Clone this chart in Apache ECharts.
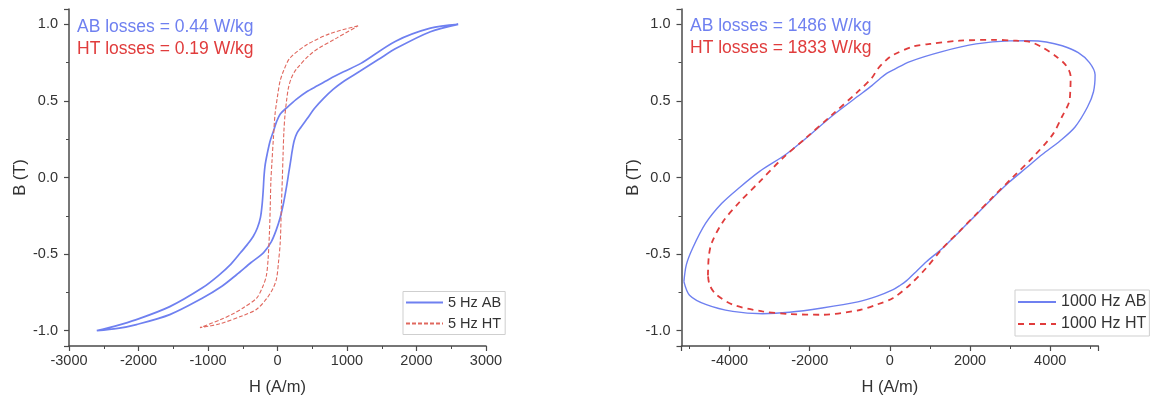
<!DOCTYPE html>
<html><head><meta charset="utf-8">
<script src="https://cdn.jsdelivr.net/npm/echarts@6/dist/echarts.min.js"></script>
<style>html,body{margin:0;padding:0;background:#fff}#c{width:1153px;height:400px}</style>
</head><body><div id="c"></div>
<script>
// ---- Data: [H (A/m), B (T)] ----
// 5 Hz, as-built (AB): descending branch then ascending branch
const ab5Desc = [[2600,1.0],[2200,0.975],[1700,0.89],[1200,0.745],[950,0.69],[755,0.645],[580,0.6],[420,0.56],[270,0.51],[132,0.455],[40,0.415],[-12,0.366],[-60,0.3],[-108,0.235],[-150,0.15],[-180,0.075],[-195,0.0],[-205,-0.08],[-220,-0.17],[-245,-0.26],[-290,-0.33],[-350,-0.385],[-430,-0.435],[-530,-0.49],[-670,-0.565],[-850,-0.64],[-1080,-0.72],[-1550,-0.843],[-2030,-0.928],[-2350,-0.972],[-2600,-1.0]];
const ab5Asc = [[-2600,-1.0],[-2300,-0.985],[-2030,-0.96],[-1550,-0.895],[-1090,-0.79],[-800,-0.71],[-590,-0.635],[-380,-0.555],[-200,-0.49],[-90,-0.42],[-20,-0.345],[40,-0.26],[90,-0.16],[130,-0.06],[165,0.04],[190,0.11],[210,0.17],[240,0.24],[280,0.29],[340,0.33],[420,0.38],[540,0.455],[660,0.515],[800,0.575],[950,0.627],[1190,0.695],[1450,0.77],[1715,0.845],[2200,0.952],[2600,1.0]];
// 5 Hz, heat treated (HT)
const ht5Desc = [[1160,0.99],[760,0.94],[420,0.866],[180,0.78],[90,0.7],[36,0.627],[0,0.53],[-36,0.41],[-60,0.25],[-80,0.1],[-95,-0.02],[-105,-0.2],[-115,-0.35],[-135,-0.53],[-160,-0.64],[-210,-0.71],[-300,-0.787],[-490,-0.85],[-640,-0.89],[-830,-0.93],[-1115,-0.98]];
const ht5Asc = [[-1115,-0.98],[-830,-0.955],[-490,-0.9],[-300,-0.86],[-155,-0.79],[-60,-0.72],[-12,-0.656],[15,-0.55],[40,-0.42],[55,-0.2],[70,0.0],[80,0.15],[92,0.3],[108,0.41],[130,0.5],[155,0.58],[200,0.65],[276,0.71],[515,0.82],[850,0.91],[1160,0.99]];
// 1000 Hz, AB: upper half (left→right) then lower half (right→left)
const ab1000Upper = [[-5140,-0.68],[-5080,-0.57],[-4920,-0.46],[-4600,-0.3],[-4200,-0.17],[-3750,-0.065],[-3250,0.04],[-2600,0.15],[-2100,0.255],[-1450,0.4],[-800,0.53],[-450,0.6],[-250,0.645],[-80,0.68],[100,0.705],[500,0.757],[1300,0.822],[2150,0.872],[2980,0.892],[3500,0.893],[3900,0.885],[4300,0.86],[4700,0.815],[4980,0.75],[5120,0.67]];
const ab1000Lower = [[5120,0.67],[5080,0.56],[4930,0.46],[4620,0.33],[4250,0.24],[3800,0.15],[3390,0.06],[2980,-0.03],[2560,-0.135],[2150,-0.243],[1740,-0.352],[1320,-0.46],[910,-0.55],[660,-0.613],[410,-0.675],[250,-0.705],[80,-0.732],[-330,-0.776],[-800,-0.812],[-1690,-0.852],[-2510,-0.88],[-3180,-0.889],[-3920,-0.874],[-4580,-0.83],[-5000,-0.768],[-5140,-0.68]];
// 1000 Hz, HT
const ht1000Upper = [[-4540,-0.64],[-4520,-0.52],[-4450,-0.43],[-4170,-0.29],[-3750,-0.16],[-3260,-0.03],[-2680,0.125],[-2100,0.257],[-1440,0.41],[-780,0.565],[-450,0.65],[-300,0.71],[-100,0.765],[80,0.8],[580,0.855],[1000,0.872],[1740,0.893],[2560,0.899],[3150,0.893],[3500,0.885],[3800,0.85],[4150,0.79],[4400,0.73],[4510,0.66]];
const ht1000Lower = [[4510,0.66],[4500,0.56],[4470,0.49],[4300,0.4],[4060,0.28],[3560,0.13],[3060,0.0],[2560,-0.13],[2150,-0.24],[1740,-0.35],[1320,-0.46],[910,-0.59],[500,-0.7],[80,-0.787],[-330,-0.83],[-750,-0.865],[-1690,-0.896],[-2510,-0.891],[-3180,-0.874],[-3920,-0.83],[-4350,-0.76],[-4500,-0.7],[-4540,-0.64]];

const seriesNames = ['5 Hz AB','5 Hz HT','1000 Hz AB','1000 Hz HT'];
const notesLeft = ['AB losses = 0.44 W/kg','HT losses = 0.19 W/kg'];
const notesRight = ['AB losses = 1486 W/kg','HT losses = 1833 W/kg'];

const BLUE = '#6f80f0', RED = '#e03c3c', RED_L = '#e0685e';
const FONT = 'Liberation Sans, Arial, sans-serif';
const AX = '#4a4a4a';

function xAxis(gi, min, max, interval, fmt) {
  const a = {type:'value', gridIndex:gi, min, max, name:'H (A/m)', nameLocation:'middle', nameGap:33,
    nameTextStyle:{fontSize:16.5, color:'#333', fontFamily:FONT},
    axisLine:{show:true, onZero:false, lineStyle:{color:AX, width:1.5}},
    axisTick:{show:true, inside:false, length:5, lineStyle:{color:AX, width:1.2}},
    minorTick:{show:true, splitNumber:2, length:3, lineStyle:{color:AX, width:1}},
    axisLabel:{fontSize:14.5, color:'#333', margin:7, fontFamily:FONT, formatter:fmt},
    splitLine:{show:false}, minorSplitLine:{show:false}};
  if (interval) a.interval = interval;
  return a;
}
function yAxis(gi, gap) {
  return {type:'value', gridIndex:gi, min:-1.1, max:1.1, name:'B (T)', nameLocation:'middle', nameGap:gap,
    nameTextStyle:{fontSize:16.5, color:'#333', fontFamily:FONT},
    axisLine:{show:true, onZero:false, lineStyle:{color:AX, width:1.5}},
    axisTick:{show:true, inside:false, length:5, lineStyle:{color:AX, width:1.2}},
    minorTick:{show:true, splitNumber:2, length:3, lineStyle:{color:AX, width:1}},
    axisLabel:{fontSize:14.5, color:'#333', margin:11, fontFamily:FONT,
      formatter: v => (Math.abs(v*2 - Math.round(v*2)) < 1e-6) ? v.toFixed(1) : ''},
    splitLine:{show:false}, minorSplitLine:{show:false}};
}

function note(left, top, text, color) {
  return {type:'text', left, top, silent:true, style:{text, fill:color, font:'17.5px ' + FONT}};
}

const chart = echarts.init(document.getElementById('c'), null, {renderer:'canvas'});
chart.setOption({
  animation:false,
  backgroundColor:'#fff',
  grid:[
    {left:69, right:1153-486, top:9, bottom:54, containLabel:false, outerBoundsMode:'none'},
    {left:681.5, right:1153-1098.3, top:9, bottom:54, containLabel:false, outerBoundsMode:'none'}
  ],
  xAxis:[
    xAxis(0, -3000, 3000, 1000, v => String(v)),
    xAxis(1, -5200, 5200, null, v => (v % 2000 === 0) ? String(v) : '')
  ],
  yAxis:[ yAxis(0, 40), yAxis(1, 40) ],
  legend:[
    {data:[seriesNames[0], seriesNames[1]], orient:'vertical', left:403, top:291.5,
     itemWidth:37, itemHeight:14, itemGap:6, padding:[3.5,4,3.5,2],
     itemStyle:{opacity:0},
     borderColor:'#cfcfcf', borderWidth:1, textStyle:{fontSize:14.5, color:'#333', fontFamily:FONT}},
    {data:[seriesNames[2], seriesNames[3]], orient:'vertical', left:1015, top:290,
     itemWidth:38, itemHeight:16, itemGap:6, padding:[4,3,4,2],
     itemStyle:{opacity:0},
     borderColor:'#cfcfcf', borderWidth:1, textStyle:{fontSize:16, color:'#333', fontFamily:FONT}}
  ],
  graphic:[
    note(77, 18, notesLeft[0], BLUE), note(77, 40, notesLeft[1], RED),
    note(690, 17, notesRight[0], BLUE), note(690, 39, notesRight[1], RED)
  ],
  series:[
    {type:'line', name:seriesNames[0], xAxisIndex:0, yAxisIndex:0, data:ab5Desc.concat(ab5Asc),
     symbol:'none', smooth:0.3, lineStyle:{color:BLUE, width:1.7}, itemStyle:{color:BLUE}},
    {type:'line', name:seriesNames[1], xAxisIndex:0, yAxisIndex:0, data:ht5Desc.concat(ht5Asc),
     symbol:'none', smooth:0.3, lineStyle:{color:RED_L, width:1.1, type:[4,2]}, itemStyle:{color:RED_L}},
    {type:'line', name:seriesNames[2], xAxisIndex:1, yAxisIndex:1, data:ab1000Upper.concat(ab1000Lower),
     symbol:'none', smooth:0.3, lineStyle:{color:BLUE, width:1.4}, itemStyle:{color:BLUE}},
    {type:'line', name:seriesNames[3], xAxisIndex:1, yAxisIndex:1, data:ht1000Upper.concat(ht1000Lower),
     symbol:'none', smooth:0.3, lineStyle:{color:RED, width:1.8, type:[6,5]}, itemStyle:{color:RED}}
  ]
});
</script></body></html>
